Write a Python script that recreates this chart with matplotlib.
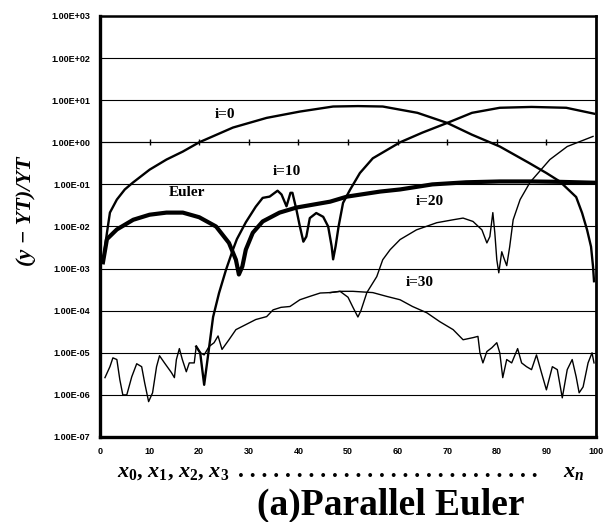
import numpy as np
import matplotlib
matplotlib.use('Agg')
import matplotlib.pyplot as plt
from matplotlib.ticker import FuncFormatter, NullLocator

plt.rcParams['mathtext.fontset'] = 'custom'
plt.rcParams['mathtext.it'] = 'Liberation Serif:italic:bold'
plt.rcParams['mathtext.rm'] = 'Liberation Serif:bold'

# relative error (y - YT)/YT, stored as log10 values
euler_x = [0.6, 1.4, 3.4, 6.7, 10, 13.4, 16.7, 20, 23.4, 26, 27.4, 28, 28.7, 29.4,
           30.8, 32.8, 36.2, 39.6, 43, 46.4, 49.8, 56.5, 60.5, 67, 73.8, 80.6, 87, 93, 99.6]
euler_exp = [-2.85, -2.3, -2.07, -1.84, -1.72, -1.67, -1.67, -1.78, -2.0, -2.39, -2.79, -3.14,
             -2.95, -2.55, -2.15, -1.88, -1.67, -1.55, -1.48, -1.41, -1.29, -1.17, -1.12, -1.0,
             -0.95, -0.93, -0.93, -0.94, -0.96]

i0_x = [0.6, 1.4, 2, 3.4, 5, 6.6, 10, 13.4, 16.7, 20, 26.8, 33.6, 40.3, 47, 52, 57, 64, 70,
        75, 80.6, 86.5, 90, 92.7, 96, 97.2, 98.2, 99, 99.4, 99.6]
i0_exp = [-2.85, -2.15, -1.67, -1.36, -1.12, -0.96, -0.65, -0.41, -0.22, 0.0, 0.35, 0.58, 0.73,
          0.85, 0.86, 0.85, 0.70, 0.46, 0.18, -0.10, -0.49, -0.73, -0.93, -1.3, -1.68, -2.08,
          -2.48, -2.95, -3.3]

i10_x = [19.4, 20.2, 21, 21.8, 22.8, 24, 25.4, 26.8, 27.6, 29.4, 31.4, 32.8, 34.2, 35.8, 36.6,
         37.6, 38.4, 38.8, 39.6, 40.3, 41, 41.6, 42.3, 43.6, 45, 46, 46.7, 47, 47.5, 48.1, 49,
         50.4, 52.4, 55, 60.5, 65, 70, 75, 80.6, 87, 94, 99.6]
i10_exp = [-4.85, -5.0, -5.76, -5.05, -4.15, -3.58, -3.03, -2.55, -2.3, -1.9, -1.53, -1.32, -1.29,
           -1.15, -1.24, -1.52, -1.2, -1.2, -1.6, -2.0, -2.36, -2.24, -1.8, -1.68, -1.77, -2.0,
           -2.47, -2.78, -2.47, -2.0, -1.44, -1.13, -0.73, -0.38, 0.0, 0.23, 0.46, 0.70, 0.82,
           0.84, 0.82, 0.68]

i20_x = [46.4, 48.4, 50, 51, 52, 52.6, 53.8, 55.8, 57, 58.5, 60.5, 63.8, 67.9, 71.2, 73.2, 75.2,
         77, 78, 78.6, 79.2, 79.6, 80, 80.4, 81, 81.4, 82, 82.6, 83.3, 84.7, 86.7, 90.7, 94.2, 99.4]
i20_exp = [-3.57, -3.54, -3.68, -3.92, -4.15, -4.0, -3.57, -3.19, -2.79, -2.55, -2.31, -2.08,
           -1.91, -1.84, -1.8, -1.88, -2.08, -2.39, -2.24, -1.67, -2.15, -2.79, -3.1, -2.6, -2.74,
           -2.93, -2.48, -1.84, -1.36, -0.95, -0.41, -0.1, 0.14]

i30_x = [1, 2, 2.6, 3.4, 4, 4.6, 5.4, 6.4, 7.4, 8.4, 9, 9.8, 10.6, 11.4, 12, 13, 14.4, 15, 15.4,
         16, 16.6, 17.4, 18, 19, 19.4, 20.2, 21, 22, 23, 23.8, 24.6, 26, 27.4, 29.4, 31.4, 33.6,
         34.9, 36.5, 38.3, 40.3, 42.3, 44.4, 46.4, 48.4, 51, 55, 57.8, 60.5, 63, 65.9, 68.5, 71.2,
         73.2, 75.2, 76.2, 76.6, 77.2, 78, 79, 80, 80.6, 81.2, 82, 83, 84.2, 85, 86, 87, 88, 89,
         90, 91.2, 92.2, 93.2, 94.2, 95.2, 96, 96.6, 97.4, 98.4, 99.2, 99.6]
i30_exp = [-5.59, -5.33, -5.12, -5.16, -5.64, -6.0, -6.0, -5.57, -5.26, -5.33, -5.71, -6.16, -5.95,
           -5.33, -5.07, -5.24, -5.47, -5.59, -5.16, -4.9, -5.16, -5.45, -5.24, -5.24, -4.85, -5.0,
           -5.05, -4.85, -4.76, -4.6, -4.92, -4.69, -4.45, -4.33, -4.21, -4.14, -3.98, -3.92, -3.9,
           -3.74, -3.66, -3.58, -3.57, -3.54, -3.54, -3.57, -3.66, -3.74, -3.9, -4.05, -4.26, -4.45,
           -4.69, -4.64, -4.61, -5.0, -5.24, -4.97, -4.88, -4.76, -5.0, -5.59, -5.16, -5.24, -4.9,
           -5.24, -5.33, -5.4, -5.05, -5.47, -5.88, -5.33, -5.4, -6.07, -5.4, -5.16, -5.57, -5.95,
           -5.81, -5.24, -5.0, -5.24]

x_ticks = list(range(0, 101, 10))
y_ticks = [10.0 ** e for e in range(-7, 4)]

W, H = 614, 522
fig = plt.figure(figsize=(W / 100, H / 100), dpi=100)
ax = fig.add_axes([100 / W, 1 - 437 / H, 496 / W, 421 / H])


def ry(e):
    return 10.0 ** np.asarray(e)


ax.plot(i30_x, ry(i30_exp), color='black', lw=1.0)
ax.plot(i20_x, ry(i20_exp), color='black', lw=1.0)
ax.plot(i10_x, ry(i10_exp), color='black', lw=1.7)
ax.plot(i0_x, ry(i0_exp), color='black', lw=1.7)
ax.plot(euler_x, ry(euler_exp), color='black', lw=3.0)

ax.set_yscale('log')
ax.set_ylim(1e-7, 1e3)
ax.set_xlim(0, 100)
ax.set_yticks(y_ticks)
ax.yaxis.set_minor_locator(NullLocator())
ax.yaxis.set_major_formatter(FuncFormatter(lambda v, p: f'{v:.2E}'))
ax.set_xticks(x_ticks)
ax.yaxis.grid(True, color='black', lw=0.8)
ax.tick_params(axis='both', length=0, pad=7)
for lab in ax.get_yticklabels() + ax.get_xticklabels():
    lab.set_family('Liberation Sans')
    lab.set_fontsize(6.5)
    lab.set_fontweight('bold')

for side, lw in [('left', 2.4), ('bottom', 2.4), ('top', 1.8), ('right', 2.0)]:
    ax.spines[side].set_linewidth(lw)

# Excel draws the category axis where y = 1
sec = ax.secondary_xaxis(0.7)
sec.set_xticks(x_ticks)
sec.tick_params(direction='inout', length=5, width=1, labeltop=False, labelbottom=False)
sec.spines['top'].set_linewidth(0.8)

lab_kw = dict(family='Liberation Serif', fontweight='bold', fontsize=11, ha='center', va='center')
ax.text(25.2, 4.57, 'i=0', **lab_kw)
ax.text(37.7, 0.2, 'i=10', **lab_kw)
ax.text(17.5, 0.065, 'Euler', **lab_kw)
ax.text(66.5, 0.039, 'i=20', **lab_kw)
ax.text(64.5, 4.7e-4, 'i=30', **lab_kw)

fig.text(26 / W, 1 - 211 / H, '(y \u2212 YT)/YT', rotation=90, ha='center', va='center',
         family='Liberation Serif', style='italic', fontweight='bold', fontsize=16)

base = 1 - 477 / H
fig.text(117 / W, base, '$x_0$, $x_1$, $x_2$, $x_3$', ha='left', va='baseline',
         family='Liberation Serif', fontweight='bold', fontsize=16)
fig.text(238 / W, base, '. ' * 26, ha='left', va='baseline',
         family='Liberation Serif', fontweight='bold', fontsize=17)
fig.text(563 / W, base, '$x_n$', ha='left', va='baseline', fontsize=16)

fig.text(391 / W, 1 - 515 / H, '(a)Parallel Euler', ha='center', va='baseline',
         family='Liberation Serif', fontweight='bold', fontsize=27)

fig.savefig('out.png', dpi=100)
